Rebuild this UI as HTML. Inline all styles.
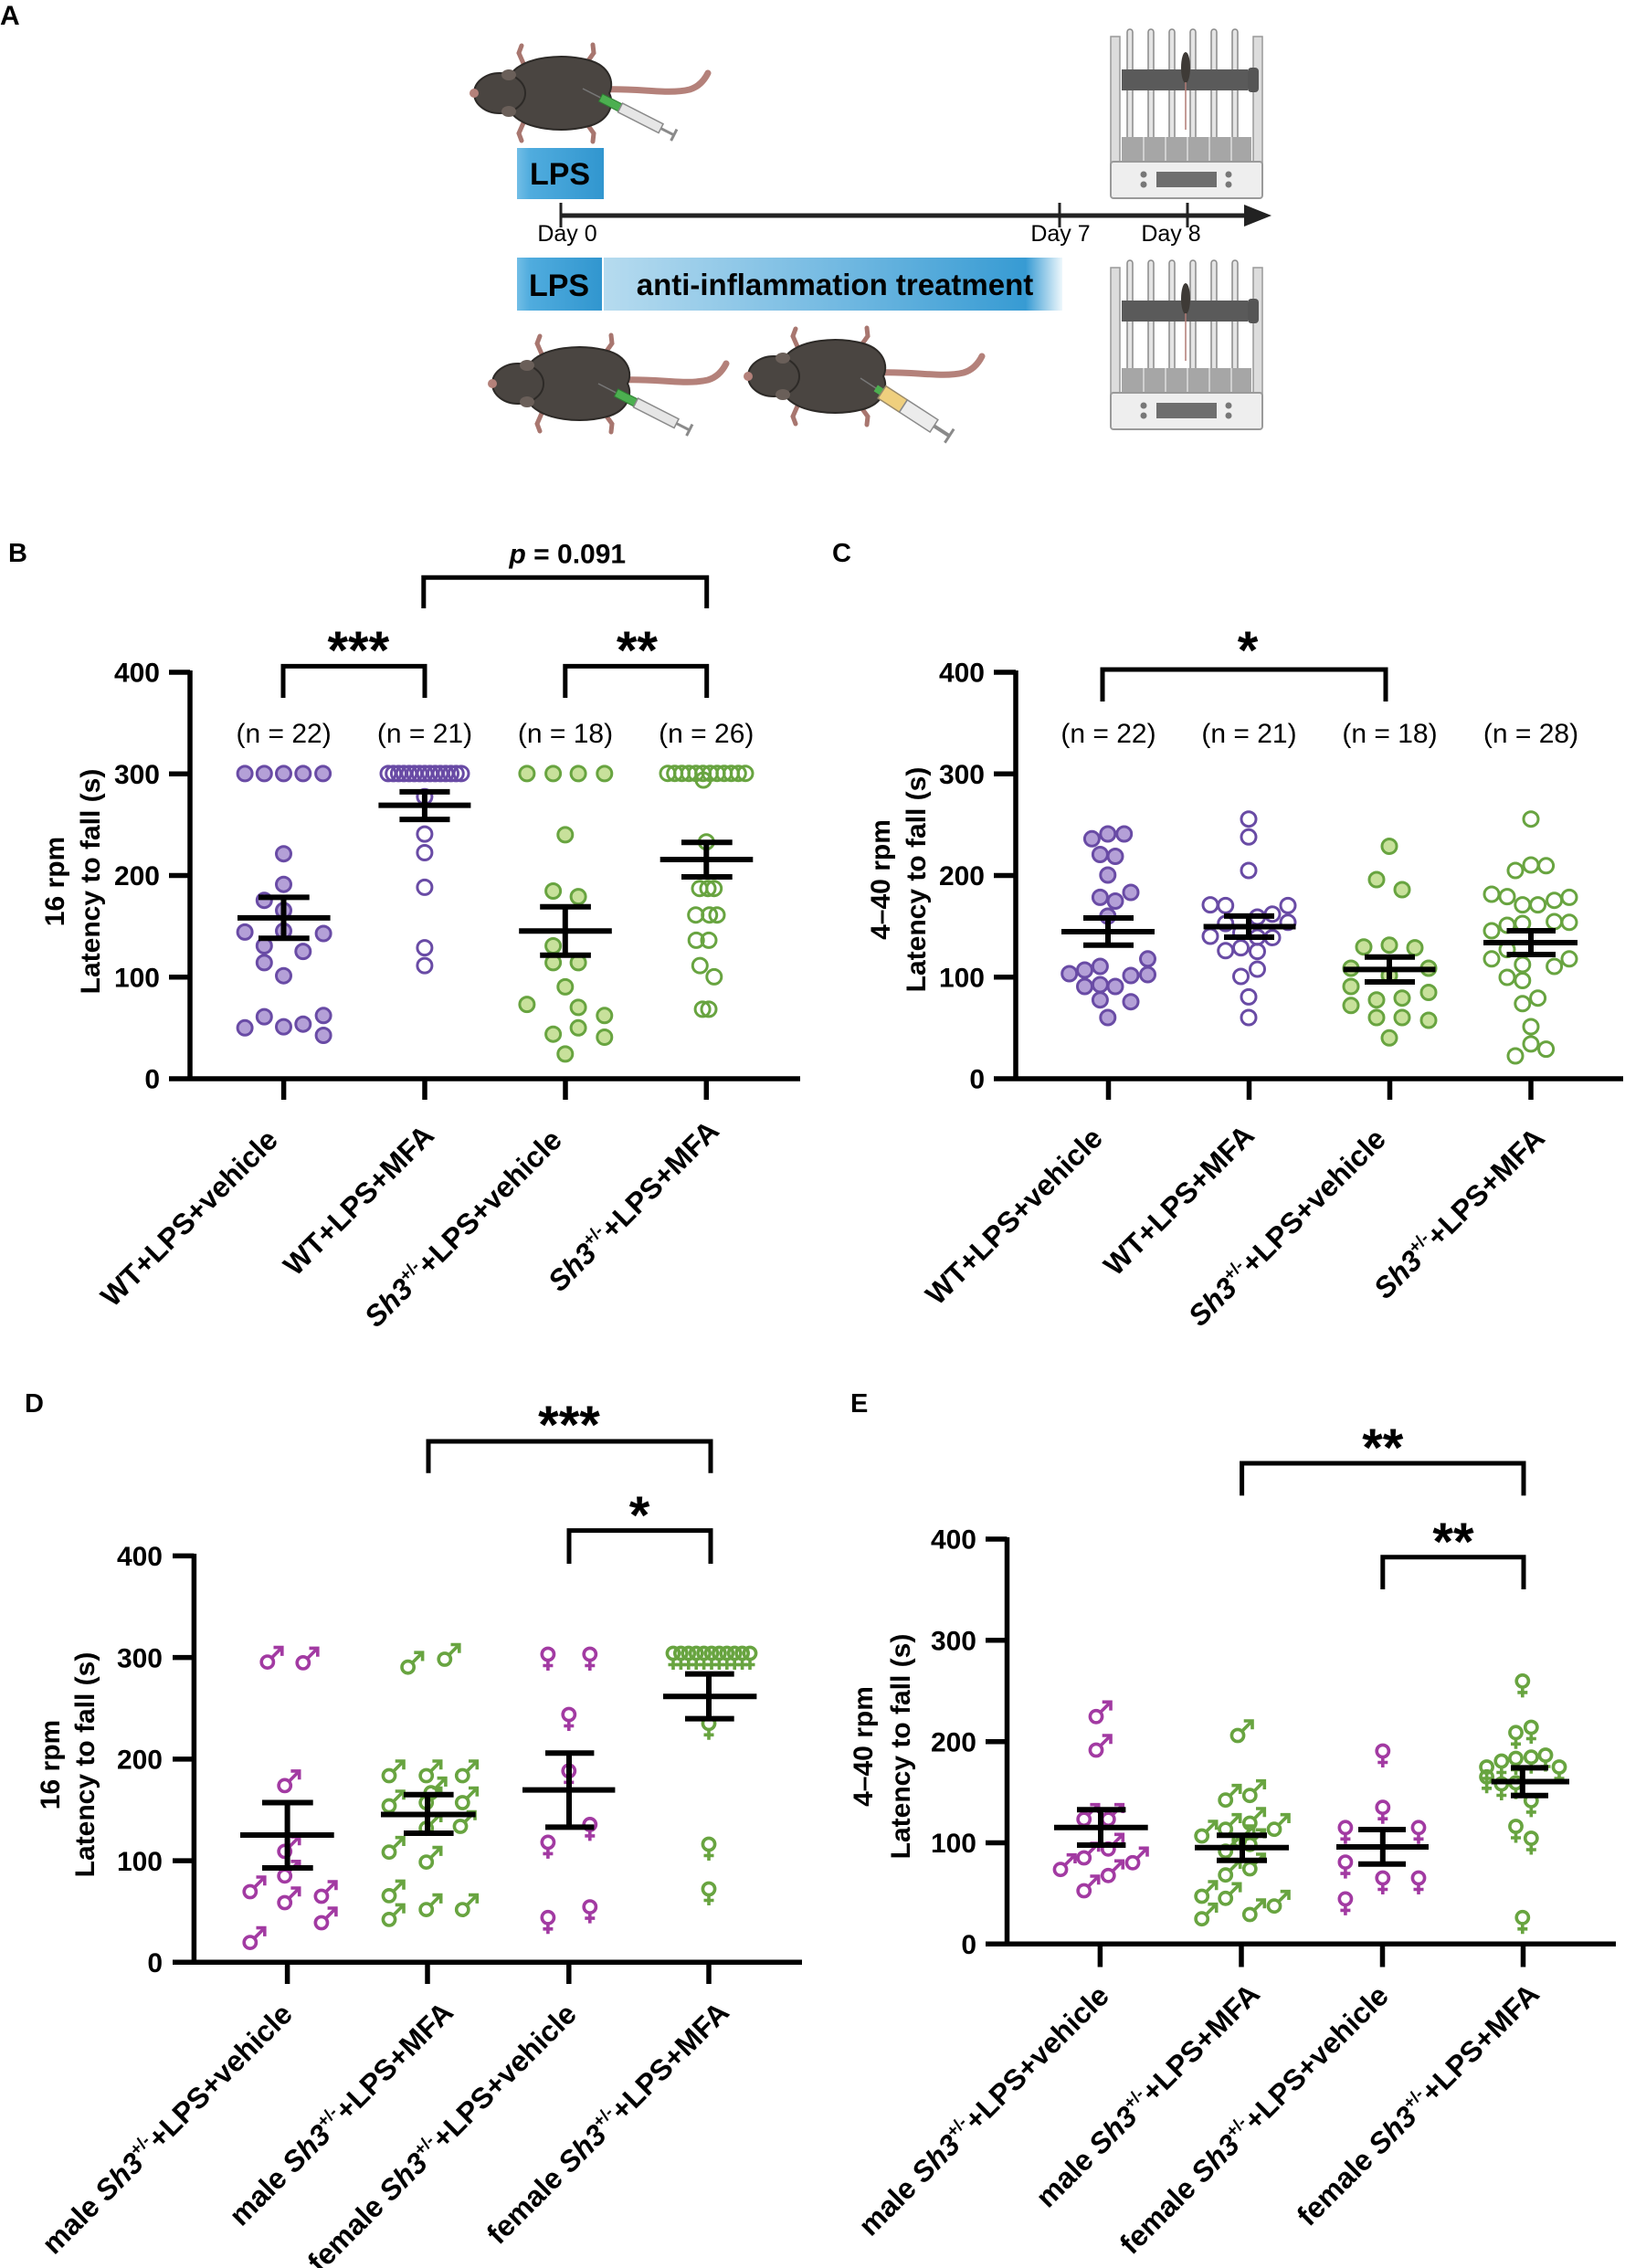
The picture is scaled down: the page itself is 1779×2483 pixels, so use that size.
<!DOCTYPE html>
<html><head><meta charset="utf-8"><style>
html,body{margin:0;padding:0;background:#fff}
svg{display:block}
.ax{stroke:#000;stroke-width:5.5;fill:none}
.tk{stroke:#000;stroke-width:5.5;fill:none}
.br{stroke:#000;stroke-width:5;fill:none}
.mn{stroke:#000;stroke-width:6;fill:none}
.pf circle{fill:#b4a0d7;stroke:#694ba5;stroke-width:3}
.po circle{fill:none;stroke:#694ba5;stroke-width:3}
.gf circle{fill:#c8e19b;stroke:#68a440;stroke-width:3}
.go circle{fill:none;stroke:#68a440;stroke-width:3}
text{font-family:"Liberation Sans",Arial,sans-serif;fill:#000}
.tl{font-size:30px;font-weight:bold;text-anchor:end}
.nl{font-size:30px;text-anchor:middle}
.xl{font-size:32px;font-weight:bold;text-anchor:end}
.yl{font-size:30px;font-weight:bold;text-anchor:middle}
.st{font-size:58px;font-weight:bold;text-anchor:middle}
.pl{font-size:29px;font-weight:bold}
</style></head><body>
<svg xmlns="http://www.w3.org/2000/svg" width="1779" height="2483" viewBox="0 0 1779 2483">
<defs>
<linearGradient id="gL" x1="0" y1="0" x2="1" y2="0">
<stop offset="0" stop-color="#72bee6"/><stop offset="0.15" stop-color="#50acde"/><stop offset="1" stop-color="#3196cf"/></linearGradient>
<linearGradient id="gT" x1="0" y1="0" x2="1" y2="0">
<stop offset="0" stop-color="#b6dbef"/><stop offset="0.5" stop-color="#74bae2"/><stop offset="0.92" stop-color="#379bd3"/><stop offset="1" stop-color="#eef7fc"/></linearGradient>
<g id="mouse">
<path d="M55 -4 C95 -6 125 2 150 -4 C160 -7 166 -14 170 -22" stroke="#b4817a" stroke-width="7" fill="none" stroke-linecap="round"/>
<path d="M-30 -28 L-37 -44 L-34 -52 M-30 28 L-37 44 L-34 52 M35 -30 L45 -44 L44 -53 M35 30 L45 44 L44 53" stroke="#a8766f" stroke-width="5" fill="none" stroke-linecap="round"/>
<path d="M-45 -22 C-30 -40 10 -44 40 -36 C62 -30 68 -12 62 0 C68 12 62 30 40 36 C10 44 -30 40 -45 22 Z" fill="#4a4541" stroke="#2d2a27" stroke-width="2"/>
<ellipse cx="-58" cy="0" rx="28" ry="22" fill="#4a4541" stroke="#2d2a27" stroke-width="2"/>
<ellipse cx="-48" cy="-20" rx="8" ry="6" fill="#6a5f59"/><ellipse cx="-48" cy="20" rx="8" ry="6" fill="#6a5f59"/>
<circle cx="-86" cy="0" r="5" fill="#b4817a"/>
</g>
<g id="syr">
<line x1="0" y1="0" x2="24" y2="0" stroke="#777" stroke-width="1.5"/>
<rect x="22" y="-4.5" width="24" height="9" fill="#4caf50" stroke="#2e7d32" stroke-width="1"/>
<rect x="46" y="-5.5" width="50" height="11" fill="#e6e6e6" stroke="#8a8a8a" stroke-width="1.5"/>
<line x1="96" y1="0" x2="112" y2="0" stroke="#8a8a8a" stroke-width="3"/>
<line x1="112" y1="-7" x2="112" y2="7" stroke="#8a8a8a" stroke-width="3"/>
</g>
<g id="syrY">
<line x1="0" y1="0" x2="22" y2="0" stroke="#777" stroke-width="1.5"/>
<rect x="20" y="-4" width="8" height="8" fill="#4caf50"/>
<rect x="28" y="-8" width="28" height="16" fill="#efcf7e" stroke="#9a8a6a" stroke-width="1.5"/>
<rect x="56" y="-8" width="40" height="16" fill="#ececec" stroke="#8a8a8a" stroke-width="1.5"/>
<line x1="96" y1="0" x2="116" y2="0" stroke="#8a8a8a" stroke-width="4"/>
<line x1="116" y1="-9" x2="116" y2="9" stroke="#8a8a8a" stroke-width="3"/>
</g>
<g id="rod">
<rect x="4" y="8" width="10" height="140" fill="#dcdcdc" stroke="#999" stroke-width="1.5"/>
<rect x="160" y="8" width="10" height="140" fill="#dcdcdc" stroke="#999" stroke-width="1.5"/>
<g fill="#e4e4e4" stroke="#8a8a8a" stroke-width="1.5">
<rect x="22" y="0" width="6" height="150" rx="3"/><rect x="45" y="0" width="6" height="150" rx="3"/><rect x="68" y="0" width="6" height="150" rx="3"/><rect x="91" y="0" width="6" height="150" rx="3"/><rect x="114" y="0" width="6" height="150" rx="3"/><rect x="137" y="0" width="6" height="150" rx="3"/>
</g>
<rect x="16" y="44" width="138" height="23" fill="#5a5a5a"/>
<rect x="154" y="42" width="12" height="27" rx="4" fill="#555"/>
<ellipse cx="86" cy="42" rx="5" ry="17" fill="#3e3a36"/>
<line x1="86" y1="58" x2="86" y2="110" stroke="#b07a74" stroke-width="1.5"/>
<rect x="16" y="118" width="142" height="27" fill="#a6a6a6"/>
<g stroke="#d0d0d0" stroke-width="2"><line x1="40" y1="118" x2="40" y2="145"/><line x1="64" y1="118" x2="64" y2="145"/><line x1="88" y1="118" x2="88" y2="145"/><line x1="112" y1="118" x2="112" y2="145"/><line x1="136" y1="118" x2="136" y2="145"/></g>
<rect x="4" y="145" width="166" height="40" rx="3" fill="#eeeeee" stroke="#9a9a9a" stroke-width="2"/>
<rect x="54" y="156" width="66" height="17" fill="#6e6e6e"/>
<g fill="#777"><circle cx="40" cy="159" r="3.5"/><circle cx="40" cy="170" r="3.5"/><circle cx="133" cy="159" r="3.5"/><circle cx="133" cy="170" r="3.5"/></g>
</g>
<g id="ml" fill="none" stroke="currentColor" stroke-width="3.6"><circle r="6.6"/><path d="M4.8 -4.8 L15 -15"/><path d="M8.5 -16 L16 -16 L16 -8.5" stroke-linecap="square"/></g>
<g id="fl" fill="none" stroke="currentColor" stroke-width="3.6"><circle r="6.6"/><path d="M0 6.6 V18 M-5.5 12.5 H5.5"/></g>
</defs>

<!-- ================= PANEL A ================= -->
<text x="0" y="27" style="font-size:30px;font-weight:bold">A</text>
<use href="#mouse" transform="translate(605,102)"/>
<use href="#syr" transform="translate(638,97) rotate(27)"/>
<rect x="566" y="162" width="95" height="56" fill="url(#gL)"/>
<text x="613" y="202" style="font-size:34px;font-weight:bold;text-anchor:middle" fill="#111">LPS</text>
<path d="M614 236 H1366" stroke="#222" stroke-width="5"/>
<polygon points="1362,224 1392,236 1362,248" fill="#222"/>
<path d="M614 222 V249 M1160 222 V249 M1300 222 V249" stroke="#222" stroke-width="3"/>
<text x="621" y="264" style="font-size:25px;text-anchor:middle">Day 0</text>
<text x="1161" y="264" style="font-size:25px;text-anchor:middle">Day 7</text>
<text x="1282" y="264" style="font-size:25px;text-anchor:middle">Day 8</text>
<rect x="566" y="282" width="93" height="58" fill="url(#gL)"/>
<rect x="661" y="282" width="502" height="58" fill="url(#gT)"/>
<text x="612" y="324" style="font-size:34px;font-weight:bold;text-anchor:middle" fill="#111">LPS</text>
<text x="914" y="323" style="font-size:33px;font-weight:bold;text-anchor:middle" fill="#111">anti-inflammation treatment</text>
<use href="#mouse" transform="translate(625,420)"/>
<use href="#syr" transform="translate(655,420) rotate(27)"/>
<use href="#mouse" transform="translate(905,412)"/>
<use href="#syrY" transform="translate(942,414) rotate(33)"/>
<use href="#rod" transform="translate(1212,32)"/>
<use href="#rod" transform="translate(1212,285)"/>

<!-- ================= PANEL B ================= -->
<text class="pl" x="9" y="615">B</text>
<path class="ax" d="M208 734 V1183.5 M185 1181 H876"/>
<path class="tk" d="M185 736 H208 M185 847.25 H208 M185 958.5 H208 M185 1069.75 H208 M310.6 1181 V1204 M465 1181 V1204 M619 1181 V1204 M773.3 1181 V1204"/>
<text class="tl" x="175" y="746.7">400</text>
<text class="tl" x="175" y="858">300</text>
<text class="tl" x="175" y="969.2">200</text>
<text class="tl" x="175" y="1080.5">100</text>
<text class="tl" x="175" y="1191.7">0</text>
<text class="yl" transform="translate(70,965) rotate(-90)">16 rpm</text>
<text class="yl" transform="translate(109,965) rotate(-90)">Latency to fall (s)</text>
<text class="nl" x="310.6" y="813">(n = 22)</text>
<text class="nl" x="465" y="813">(n = 21)</text>
<text class="nl" x="619" y="813">(n = 18)</text>
<text class="nl" x="773.3" y="813">(n = 26)</text>
<path class="br" d="M310 764 V729.4 H465 V764"/>
<path class="br" d="M618.8 764 V729.4 H773.7 V764"/>
<path class="br" d="M463.8 666 V632.2 H773.7 V666"/>
<text class="st" x="392.3" y="732">***</text>
<text class="st" x="697.4" y="732">**</text>
<text x="621.3" y="616.5" style="font-size:30px;font-weight:bold;text-anchor:middle"><tspan font-style="italic">p</tspan> = 0.091</text>
<g class="pf">
<circle cx="268.1" cy="846.9" r="8"/><circle cx="289.3" cy="846.9" r="8"/><circle cx="310.5" cy="846.9" r="8"/><circle cx="331.8" cy="846.9" r="8"/><circle cx="353.6" cy="846.9" r="8"/>
<circle cx="310.5" cy="934.7" r="8"/><circle cx="310.5" cy="968.2" r="8"/><circle cx="289.3" cy="985.7" r="8"/><circle cx="310.5" cy="996.7" r="8"/><circle cx="268.1" cy="1020.4" r="8"/><circle cx="310.5" cy="1019.2" r="8"/><circle cx="354.1" cy="1022" r="8"/><circle cx="289.3" cy="1035.5" r="8"/><circle cx="331.8" cy="1041.6" r="8"/><circle cx="289.3" cy="1053.9" r="8"/><circle cx="310.5" cy="1068.2" r="8"/><circle cx="289.3" cy="1113.1" r="8"/><circle cx="354.1" cy="1111.8" r="8"/><circle cx="268.1" cy="1125.3" r="8"/><circle cx="310.5" cy="1124.1" r="8"/><circle cx="331.8" cy="1121.2" r="8"/><circle cx="354.1" cy="1133.5" r="8"/>
</g>
<g class="po">
<circle cx="425" cy="846.9" r="8"/><circle cx="430.7" cy="846.9" r="8"/><circle cx="436.4" cy="846.9" r="8"/><circle cx="442.1" cy="846.9" r="8"/><circle cx="447.9" cy="846.9" r="8"/><circle cx="453.6" cy="846.9" r="8"/><circle cx="459.3" cy="846.9" r="8"/><circle cx="465" cy="846.9" r="8"/><circle cx="470.7" cy="846.9" r="8"/><circle cx="476.4" cy="846.9" r="8"/><circle cx="482.1" cy="846.9" r="8"/><circle cx="487.9" cy="846.9" r="8"/><circle cx="493.6" cy="846.9" r="8"/><circle cx="499.3" cy="846.9" r="8"/><circle cx="505" cy="846.9" r="8"/>
<circle cx="464.9" cy="872.2" r="8"/><circle cx="464.9" cy="913.1" r="8"/><circle cx="464.9" cy="933.5" r="8"/><circle cx="464.9" cy="971.4" r="8"/><circle cx="464.9" cy="1037.6" r="8"/><circle cx="464.9" cy="1057.1" r="8"/>
</g>
<g class="gf">
<circle cx="576.9" cy="846.9" r="8"/><circle cx="605.6" cy="846.9" r="8"/><circle cx="633.1" cy="846.9" r="8"/><circle cx="661.8" cy="846.9" r="8"/>
<circle cx="618.8" cy="913.9" r="8"/><circle cx="605.6" cy="975.5" r="8"/><circle cx="633.1" cy="981.6" r="8"/><circle cx="605.6" cy="1035.5" r="8"/><circle cx="605.6" cy="1053.9" r="8"/><circle cx="633.1" cy="1053.9" r="8"/><circle cx="618.8" cy="1080.4" r="8"/><circle cx="576.9" cy="1099.6" r="8"/><circle cx="633.1" cy="1102.9" r="8"/><circle cx="661.8" cy="1111.8" r="8"/><circle cx="633.1" cy="1125.3" r="8"/><circle cx="605.6" cy="1132.2" r="8"/><circle cx="661.8" cy="1135.5" r="8"/><circle cx="618.8" cy="1153.9" r="8"/>
</g>
<g class="go">
<circle cx="731" cy="846.7" r="8"/><circle cx="738.7" cy="846.7" r="8"/><circle cx="746.5" cy="846.7" r="8"/><circle cx="754.2" cy="846.7" r="8"/><circle cx="761.9" cy="846.7" r="8"/><circle cx="769.6" cy="846.7" r="8"/><circle cx="777.4" cy="846.7" r="8"/><circle cx="785.1" cy="846.7" r="8"/><circle cx="792.8" cy="846.7" r="8"/><circle cx="800.5" cy="846.7" r="8"/><circle cx="808.3" cy="846.7" r="8"/><circle cx="816" cy="846.7" r="8"/>
<circle cx="770" cy="854" r="8"/><circle cx="773.3" cy="921.7" r="8"/>
<circle cx="766" cy="972.7" r="8"/><circle cx="775" cy="972.7" r="8"/><circle cx="781.7" cy="972.7" r="8"/>
<circle cx="761.7" cy="1001.7" r="8"/><circle cx="776.7" cy="1001.7" r="8"/><circle cx="785" cy="1001.7" r="8"/>
<circle cx="762.2" cy="1029.4" r="8"/><circle cx="776" cy="1029.4" r="8"/><circle cx="766.3" cy="1057.1" r="8"/><circle cx="781.8" cy="1069.4" r="8"/><circle cx="769.1" cy="1104.9" r="8"/><circle cx="776" cy="1104.9" r="8"/>
</g>
<path class="mn" d="M260 1004.9 H361.6 M283 982.4 H338.7 M283 1027.3 H338.7 M310.5 982.4 V1027.3"/>
<path class="mn" d="M414.4 881.6 H515.4 M437.4 866.9 H492.5 M437.4 897.1 H492.5 M464.9 866.9 V897.1"/>
<path class="mn" d="M568.2 1019.2 H669.8 M591.2 992.7 H646.9 M591.2 1045.7 H646.9 M618.8 992.7 V1045.7"/>
<path class="mn" d="M722.7 941 H824.3 M746 922.3 H801.7 M746 960 H801.7 M773.3 922.3 V960"/>
<text class="xl" transform="translate(306,1250) rotate(-45)">WT+LPS+vehicle</text>
<text class="xl" transform="translate(477,1245) rotate(-45)">WT+LPS+MFA</text>
<text class="xl" transform="translate(617,1250) rotate(-45)"><tspan font-style="italic">Sh3</tspan><tspan font-size="19" dy="-13">+/-</tspan><tspan dy="13">+LPS+vehicle</tspan></text>
<text class="xl" transform="translate(789,1240) rotate(-45)"><tspan font-style="italic">Sh3</tspan><tspan font-size="19" dy="-13">+/-</tspan><tspan dy="13">+LPS+MFA</tspan></text>

<!-- ================= PANEL C ================= -->
<text class="pl" x="911" y="615">C</text>
<path class="ax" d="M1112 734 V1183.5 M1088 1181 H1777"/>
<path class="tk" d="M1088 736 H1112 M1088 847.25 H1112 M1088 958.5 H1112 M1088 1069.75 H1112 M1213.5 1181 V1204 M1367.5 1181 V1204 M1521.5 1181 V1204 M1676 1181 V1204"/>
<text class="tl" x="1078" y="746.7">400</text>
<text class="tl" x="1078" y="858">300</text>
<text class="tl" x="1078" y="969.2">200</text>
<text class="tl" x="1078" y="1080.5">100</text>
<text class="tl" x="1078" y="1191.7">0</text>
<text class="yl" transform="translate(974,963) rotate(-90)">4–40 rpm</text>
<text class="yl" transform="translate(1013,963) rotate(-90)">Latency to fall (s)</text>
<text class="nl" x="1213.5" y="813">(n = 22)</text>
<text class="nl" x="1367.5" y="813">(n = 21)</text>
<text class="nl" x="1521.5" y="813">(n = 18)</text>
<text class="nl" x="1676" y="813">(n = 28)</text>
<path class="br" d="M1207 768 V733 H1517 V768"/>
<text class="st" x="1366" y="732">*</text>
<g class="pf">
<circle cx="1195.4" cy="918.3" r="8"/><circle cx="1212.8" cy="913" r="8"/><circle cx="1230.7" cy="913" r="8"/><circle cx="1204.4" cy="935.5" r="8"/><circle cx="1221" cy="937.5" r="8"/><circle cx="1212.8" cy="958" r="8"/><circle cx="1204.4" cy="982.4" r="8"/><circle cx="1221" cy="986.5" r="8"/><circle cx="1238" cy="977" r="8"/><circle cx="1212.8" cy="1003" r="8"/><circle cx="1256.5" cy="1049.8" r="8"/><circle cx="1170.7" cy="1066" r="8"/><circle cx="1187.5" cy="1062" r="8"/><circle cx="1204.4" cy="1058" r="8"/><circle cx="1238" cy="1068" r="8"/><circle cx="1256.5" cy="1067" r="8"/><circle cx="1187.5" cy="1080" r="8"/><circle cx="1204.4" cy="1078" r="8"/><circle cx="1221" cy="1080" r="8"/><circle cx="1204.4" cy="1094.7" r="8"/><circle cx="1238" cy="1096.7" r="8"/><circle cx="1212.8" cy="1114" r="8"/>
</g>
<g class="po">
<circle cx="1367" cy="896.7" r="8"/><circle cx="1367" cy="916.3" r="8"/><circle cx="1367" cy="953" r="8"/><circle cx="1325" cy="990.6" r="8"/><circle cx="1341.7" cy="991.4" r="8"/><circle cx="1410" cy="991.4" r="8"/><circle cx="1376.5" cy="1004" r="8"/><circle cx="1393" cy="1000.8" r="8"/><circle cx="1341.7" cy="1011" r="8"/><circle cx="1410" cy="1009.8" r="8"/><circle cx="1325" cy="1025" r="8"/><circle cx="1358.5" cy="1021" r="8"/><circle cx="1393" cy="1026.5" r="8"/><circle cx="1341.7" cy="1040.8" r="8"/><circle cx="1358.5" cy="1037.6" r="8"/><circle cx="1376.5" cy="1041.6" r="8"/><circle cx="1376.5" cy="1061" r="8"/><circle cx="1358.5" cy="1069" r="8"/><circle cx="1367" cy="1091.4" r="8"/><circle cx="1367" cy="1114" r="8"/><circle cx="1376.5" cy="1026" r="8"/>
</g>
<g class="gf">
<circle cx="1521" cy="926.5" r="8"/><circle cx="1507" cy="963" r="8"/><circle cx="1535" cy="974" r="8"/><circle cx="1493" cy="1036.7" r="8"/><circle cx="1521" cy="1034.7" r="8"/><circle cx="1549" cy="1037.6" r="8"/><circle cx="1479" cy="1060" r="8"/><circle cx="1564" cy="1060" r="8"/><circle cx="1521" cy="1068" r="8"/><circle cx="1479" cy="1080" r="8"/><circle cx="1564" cy="1086.5" r="8"/><circle cx="1507" cy="1094.7" r="8"/><circle cx="1535" cy="1092.7" r="8"/><circle cx="1479" cy="1100.8" r="8"/><circle cx="1507" cy="1114" r="8"/><circle cx="1535" cy="1114" r="8"/><circle cx="1564" cy="1117" r="8"/><circle cx="1521" cy="1136.3" r="8"/>
</g>
<g class="go">
<circle cx="1676" cy="896.7" r="8"/><circle cx="1659" cy="953" r="8"/><circle cx="1676" cy="947" r="8"/><circle cx="1692.6" cy="947.8" r="8"/><circle cx="1633" cy="979" r="8"/><circle cx="1650" cy="981.6" r="8"/><circle cx="1666.8" cy="990.6" r="8"/><circle cx="1683.6" cy="990.6" r="8"/><circle cx="1701.6" cy="985.7" r="8"/><circle cx="1718" cy="982.4" r="8"/><circle cx="1650" cy="1013" r="8"/><circle cx="1666.8" cy="1011" r="8"/><circle cx="1701.6" cy="1009" r="8"/><circle cx="1718" cy="1009.8" r="8"/><circle cx="1633" cy="1019" r="8"/><circle cx="1633" cy="1049.8" r="8"/><circle cx="1650" cy="1039.6" r="8"/><circle cx="1666.8" cy="1056" r="8"/><circle cx="1701.6" cy="1058" r="8"/><circle cx="1718" cy="1049.8" r="8"/><circle cx="1650" cy="1070" r="8"/><circle cx="1666.8" cy="1073.5" r="8"/><circle cx="1666.8" cy="1098.8" r="8"/><circle cx="1683.6" cy="1092.7" r="8"/><circle cx="1676" cy="1124" r="8"/><circle cx="1676" cy="1142.9" r="8"/><circle cx="1692.6" cy="1148.6" r="8"/><circle cx="1659" cy="1156" r="8"/>
</g>
<path class="mn" d="M1162 1020 H1264 M1186 1005 H1241 M1186 1034.7 H1241 M1213 1005 V1034.7"/>
<path class="mn" d="M1317.6 1014.5 H1418.5 M1340 1002.9 H1395 M1340 1026 H1395 M1367 1002.9 V1026"/>
<path class="mn" d="M1470.6 1061.4 H1571.5 M1494 1047.8 H1549 M1494 1075 H1549 M1521 1047.8 V1075"/>
<path class="mn" d="M1624 1032 H1727 M1649.5 1019 H1703 M1649.5 1045 H1703 M1676 1019 V1045"/>
<text class="xl" transform="translate(1209,1248) rotate(-45)">WT+LPS+vehicle</text>
<text class="xl" transform="translate(1375,1245) rotate(-45)">WT+LPS+MFA</text>
<text class="xl" transform="translate(1519,1249) rotate(-45)"><tspan font-style="italic">Sh3</tspan><tspan font-size="19" dy="-13">+/-</tspan><tspan dy="13">+LPS+vehicle</tspan></text>
<text class="xl" transform="translate(1693,1248) rotate(-45)"><tspan font-style="italic">Sh3</tspan><tspan font-size="19" dy="-13">+/-</tspan><tspan dy="13">+LPS+MFA</tspan></text>

<!-- ================= PANEL D ================= -->
<text class="pl" x="27" y="1546">D</text>
<path class="ax" d="M212.4 1701 V2150.8 M189 2148.3 H878"/>
<path class="tk" d="M189 1703.4 H212.4 M189 1814.6 H212.4 M189 1925.9 H212.4 M189 2037.1 H212.4 M314.6 2148.3 V2172 M468 2148.3 V2172 M622.8 2148.3 V2172 M776 2148.3 V2172"/>
<text class="tl" x="178" y="1714.1">400</text>
<text class="tl" x="178" y="1825.3">300</text>
<text class="tl" x="178" y="1936.6">200</text>
<text class="tl" x="178" y="2047.8">100</text>
<text class="tl" x="178" y="2159">0</text>
<text class="yl" transform="translate(65,1932) rotate(-90)">16 rpm</text>
<text class="yl" transform="translate(103,1932) rotate(-90)">Latency to fall (s)</text>
<path class="br" d="M469 1612.7 V1578 H778 V1612.7"/>
<path class="br" d="M623 1712 V1675.6 H778 V1712"/>
<text class="st" x="623" y="1580">***</text>
<text class="st" x="700" y="1679">*</text>
<g color="#a23aa2">
<use href="#ml" x="292.8" y="1819.6"/><use href="#ml" x="331.8" y="1820.4"/><use href="#ml" x="311.7" y="1954.9"/><use href="#ml" x="311.7" y="2026.9"/><use href="#ml" x="311.7" y="2053.8"/><use href="#ml" x="273.8" y="2071"/><use href="#ml" x="311.7" y="2083"/><use href="#ml" x="351.9" y="2076"/><use href="#ml" x="351.9" y="2105"/><use href="#ml" x="273.8" y="2126.6"/>
</g>
<g color="#68a440">
<use href="#ml" x="446.6" y="1825.2"/><use href="#ml" x="486.8" y="1816.5"/><use href="#ml" x="426" y="1944"/><use href="#ml" x="466.7" y="1944"/><use href="#ml" x="506.3" y="1944"/><use href="#ml" x="426" y="1977"/><use href="#ml" x="466.7" y="1973.5"/><use href="#ml" x="506.3" y="1973.5"/><use href="#ml" x="466.7" y="2001.7"/><use href="#ml" x="504" y="1999.5"/><use href="#ml" x="426" y="2027.7"/><use href="#ml" x="466.7" y="2038.6"/><use href="#ml" x="426" y="2075.4"/><use href="#ml" x="466.7" y="2090.6"/><use href="#ml" x="506.3" y="2090.6"/><use href="#ml" x="426" y="2101.4"/><use href="#ml" x="471.9" y="1962.7"/>
</g>
<g color="#a23aa2">
<use href="#fl" x="599.9" y="1811"/><use href="#fl" x="645.8" y="1811"/><use href="#fl" x="622.8" y="1877"/><use href="#fl" x="622.8" y="1938.8"/><use href="#fl" x="645.8" y="1997.4"/><use href="#fl" x="599.9" y="2016.9"/><use href="#fl" x="599.9" y="2099.3"/><use href="#fl" x="645.8" y="2087.6"/>
</g>
<g color="#68a440">
<use href="#fl" x="737" y="1810"/><use href="#fl" x="745.4" y="1810"/><use href="#fl" x="753.8" y="1810"/><use href="#fl" x="762.2" y="1810"/><use href="#fl" x="770.6" y="1810"/><use href="#fl" x="779" y="1810"/><use href="#fl" x="787.4" y="1810"/><use href="#fl" x="795.8" y="1810"/><use href="#fl" x="804.2" y="1810"/><use href="#fl" x="812.6" y="1810"/><use href="#fl" x="821" y="1810"/>
<use href="#fl" x="776" y="1886.8"/><use href="#fl" x="776" y="2019"/><use href="#fl" x="776" y="2068"/>
</g>
<path class="mn" d="M263 2009 H365.7 M287 1973.5 H342.7 M287 2045 H342.7 M314.6 1973.5 V2045"/>
<path class="mn" d="M417 1986.5 H520.7 M442 1964.8 H496.6 M442 2007 H496.6 M468 1964.8 V2007"/>
<path class="mn" d="M572 1959.6 H673.4 M597 1919.3 H650.4 M597 2000.4 H650.4 M623 1919.3 V2000.4"/>
<path class="mn" d="M726 1857.3 H828.4 M750 1832.6 H803.7 M750 1881.6 H803.7 M776 1832.6 V1881.6"/>
<text class="xl" transform="translate(322,2207) rotate(-45)">male <tspan font-style="italic">Sh3</tspan><tspan font-size="19" dy="-13">+/-</tspan><tspan dy="13">+LPS+vehicle</tspan></text>
<text class="xl" transform="translate(498,2205) rotate(-45)">male <tspan font-style="italic">Sh3</tspan><tspan font-size="19" dy="-13">+/-</tspan><tspan dy="13">+LPS+MFA</tspan></text>
<text class="xl" transform="translate(633,2207) rotate(-45)">female <tspan font-style="italic">Sh3</tspan><tspan font-size="19" dy="-13">+/-</tspan><tspan dy="13">+LPS+vehicle</tspan></text>
<text class="xl" transform="translate(800,2205) rotate(-45)">female <tspan font-style="italic">Sh3</tspan><tspan font-size="19" dy="-13">+/-</tspan><tspan dy="13">+LPS+MFA</tspan></text>

<!-- ================= PANEL E ================= -->
<text class="pl" x="931" y="1546">E</text>
<path class="ax" d="M1102.5 1683 V2130.8 M1079 2128.3 H1769"/>
<path class="tk" d="M1079 1685 H1102.5 M1079 1795.8 H1102.5 M1079 1906.7 H1102.5 M1079 2017.5 H1102.5 M1204.4 2128.3 V2153.5 M1359 2128.3 V2153.5 M1513.5 2128.3 V2153.5 M1667.5 2128.3 V2153.5"/>
<text class="tl" x="1069" y="1695.7">400</text>
<text class="tl" x="1069" y="1806.5">300</text>
<text class="tl" x="1069" y="1917.4">200</text>
<text class="tl" x="1069" y="2028.2">100</text>
<text class="tl" x="1069" y="2139">0</text>
<text class="yl" transform="translate(955,1912) rotate(-90)">4–40 rpm</text>
<text class="yl" transform="translate(996,1912) rotate(-90)">Latency to fall (s)</text>
<path class="br" d="M1359.6 1637.4 V1602 H1668 V1637.4"/>
<path class="br" d="M1513.8 1740 V1704.7 H1668 V1740"/>
<text class="st" x="1513.8" y="1605">**</text>
<text class="st" x="1591" y="1708">**</text>
<g color="#a23aa2">
<use href="#ml" x="1200" y="1879.3"/><use href="#ml" x="1200" y="1916"/><use href="#ml" x="1186.7" y="1991.7"/><use href="#ml" x="1213.3" y="1991.7"/><use href="#ml" x="1213.3" y="2024.3"/><use href="#ml" x="1186.7" y="2034"/><use href="#ml" x="1161" y="2046.7"/><use href="#ml" x="1240" y="2039.3"/><use href="#ml" x="1213.3" y="2053.3"/><use href="#ml" x="1186.7" y="2070"/>
</g>
<g color="#68a440">
<use href="#ml" x="1355" y="1900"/><use href="#ml" x="1341.7" y="1970.7"/><use href="#ml" x="1368.3" y="1965.7"/><use href="#ml" x="1315.7" y="2010"/><use href="#ml" x="1341.7" y="2002.7"/><use href="#ml" x="1368.3" y="1996"/><use href="#ml" x="1395" y="2002.7"/><use href="#ml" x="1341.7" y="2026.7"/><use href="#ml" x="1368.3" y="2019.3"/><use href="#ml" x="1341.7" y="2052.7"/><use href="#ml" x="1368.3" y="2046"/><use href="#ml" x="1315.7" y="2076"/><use href="#ml" x="1341.7" y="2078.3"/><use href="#ml" x="1315.7" y="2100.7"/><use href="#ml" x="1368.3" y="2096"/><use href="#ml" x="1395" y="2086.7"/><use href="#ml" x="1356.7" y="2015"/>
</g>
<g color="#a23aa2">
<use href="#fl" x="1513.8" y="1917"/><use href="#fl" x="1513.8" y="1978.7"/><use href="#fl" x="1472.9" y="2000.8"/><use href="#fl" x="1553" y="2000.8"/><use href="#fl" x="1472.9" y="2038.6"/><use href="#fl" x="1513.8" y="2056"/><use href="#fl" x="1553" y="2056"/><use href="#fl" x="1472.9" y="2078.9"/>
</g>
<g color="#68a440">
<use href="#fl" x="1666.8" y="1840.4"/><use href="#fl" x="1659.5" y="1896.8"/><use href="#fl" x="1676.3" y="1891"/><use href="#fl" x="1627.6" y="1934.5"/><use href="#fl" x="1643.8" y="1928"/><use href="#fl" x="1659.5" y="1925"/><use href="#fl" x="1676.3" y="1923.7"/><use href="#fl" x="1692" y="1921.5"/><use href="#fl" x="1707" y="1934.5"/><use href="#fl" x="1627.6" y="1945.3"/><use href="#fl" x="1659.5" y="1951.8"/><use href="#fl" x="1643.8" y="1953"/><use href="#fl" x="1676.3" y="1971.4"/><use href="#fl" x="1659.5" y="1999.5"/><use href="#fl" x="1676.3" y="2012.5"/><use href="#fl" x="1666.8" y="2099.3"/>
</g>
<path class="mn" d="M1154 2000.7 H1256.7 M1179 1981.3 H1232.4 M1179 2020 H1232.4 M1205 1981.3 V2020"/>
<path class="mn" d="M1308 2022.7 H1411 M1332 2009.3 H1387 M1332 2036.7 H1387 M1360 2009.3 V2036.7"/>
<path class="mn" d="M1463 2022 H1564 M1487 2003 H1539 M1487 2040.7 H1539 M1513.8 2003 V2040.7"/>
<path class="mn" d="M1632.6 1950.5 H1718 M1654 1935.4 H1695 M1654 1965.7 H1695 M1666.8 1935.4 V1965.7"/>
<text class="xl" transform="translate(1216,2187) rotate(-45)">male <tspan font-style="italic">Sh3</tspan><tspan font-size="19" dy="-13">+/-</tspan><tspan dy="13">+LPS+vehicle</tspan></text>
<text class="xl" transform="translate(1381,2185) rotate(-45)">male <tspan font-style="italic">Sh3</tspan><tspan font-size="19" dy="-13">+/-</tspan><tspan dy="13">+LPS+MFA</tspan></text>
<text class="xl" transform="translate(1522,2187) rotate(-45)">female <tspan font-style="italic">Sh3</tspan><tspan font-size="19" dy="-13">+/-</tspan><tspan dy="13">+LPS+vehicle</tspan></text>
<text class="xl" transform="translate(1687,2185) rotate(-45)">female <tspan font-style="italic">Sh3</tspan><tspan font-size="19" dy="-13">+/-</tspan><tspan dy="13">+LPS+MFA</tspan></text>
</svg>
</body></html>
